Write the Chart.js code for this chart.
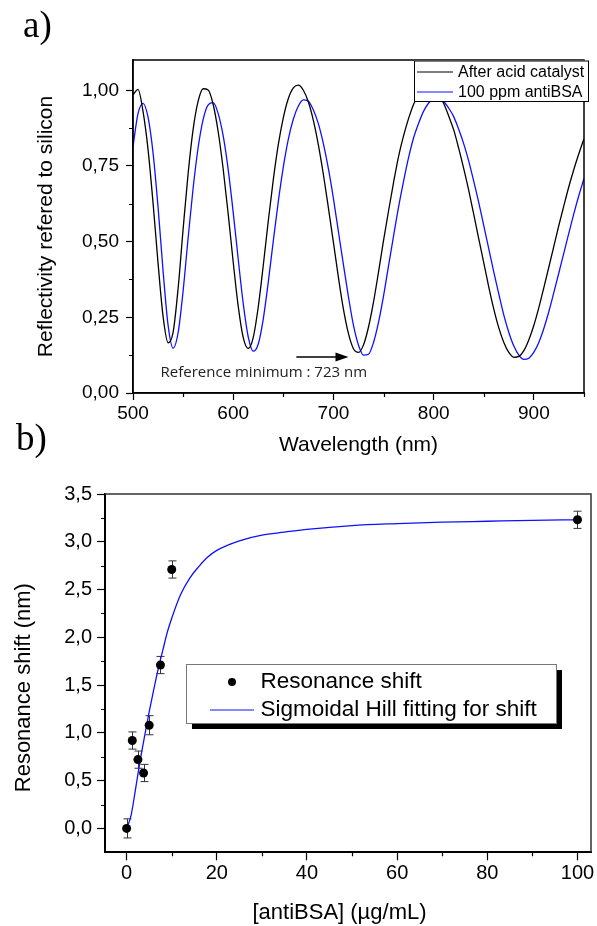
<!DOCTYPE html>
<html>
<head>
<meta charset="utf-8">
<title>Reflectivity and resonance shift</title>
<script src="https://cdn.jsdelivr.net/npm/chart.js@4.4.1/dist/chart.umd.min.js"></script>
<style>
  html, body { margin: 0; padding: 0; background: #fff; }
  #wrap { position: relative; width: 597px; height: 926px; overflow: hidden; background: #fff; }
  #c1 { position: absolute; left: 0; top: 0; }
  #c2 { position: absolute; left: 0; top: 460px; }
  .panel { position: absolute; font-family: "Liberation Serif", "Times New Roman", serif;
           font-size: 37px; line-height: 37px; color: #000; margin: 0; }
</style>
</head>
<body>
<div id="wrap">
  <canvas id="c1" width="597" height="460"></canvas>
  <canvas id="c2" width="597" height="466"></canvas>
  <div class="panel" style="left:23px; top:6px;">a)</div>
  <div class="panel" style="left:16px; top:419px;">b)</div>
</div>
<script>
// ---------- panel a): reflectivity spectra ----------
const wavelength = [
  500, 505, 510, 515, 520, 525, 530, 535, 540, 545, 550, 555, 560, 565, 570, 575, 580, 585, 590, 595,
  600, 605, 610, 615, 620, 625, 630, 635, 640, 645, 650, 655, 660, 665, 670, 675, 680, 685, 690, 695,
  700, 705, 710, 715, 720, 725, 730, 735, 740, 745, 750, 755, 760, 765, 770, 775, 780, 785, 790, 795,
  800, 805, 810, 815, 820, 825, 830, 835, 840, 845, 850, 855, 860, 865, 870, 875, 880, 885, 890, 895,
  900, 905, 910, 915, 920, 925, 930, 935, 940, 945, 950
];
const reflAfterCatalyst = [
  0.985, 1.003, 0.930, 0.805, 0.628, 0.429, 0.253, 0.166, 0.200, 0.345, 0.541, 0.725, 0.871, 0.964, 1.005, 1.001, 0.953, 0.863, 0.739, 0.591,
  0.432, 0.286, 0.183, 0.147, 0.184, 0.285, 0.422, 0.569, 0.705, 0.821, 0.910, 0.973, 1.008, 1.017, 1.000, 0.961, 0.900, 0.819, 0.721, 0.611,
  0.497, 0.381, 0.276, 0.196, 0.146, 0.134, 0.159, 0.218, 0.301, 0.400, 0.504, 0.602, 0.696, 0.782, 0.850, 0.907, 0.954, 0.984, 1.004, 1.010,
  1.003, 0.984, 0.956, 0.915, 0.869, 0.808, 0.741, 0.669, 0.590, 0.509, 0.430, 0.350, 0.277, 0.215, 0.167, 0.134, 0.118, 0.121, 0.140, 0.176,
  0.224, 0.283, 0.349, 0.417, 0.486, 0.555, 0.620, 0.683, 0.740, 0.792, 0.840
];
const reflAntiBSA = [
  0.815, 0.923, 0.957, 0.911, 0.793, 0.614, 0.404, 0.224, 0.148, 0.199, 0.337, 0.512, 0.677, 0.811, 0.904, 0.952, 0.959, 0.923, 0.849, 0.738,
  0.596, 0.442, 0.295, 0.185, 0.138, 0.162, 0.245, 0.367, 0.503, 0.633, 0.747, 0.839, 0.905, 0.948, 0.968, 0.964, 0.935, 0.889, 0.823, 0.740,
  0.642, 0.532, 0.423, 0.317, 0.223, 0.158, 0.125, 0.128, 0.167, 0.234, 0.321, 0.421, 0.519, 0.615, 0.700, 0.778, 0.843, 0.891, 0.931, 0.958,
  0.972, 0.974, 0.963, 0.941, 0.913, 0.871, 0.823, 0.766, 0.699, 0.629, 0.553, 0.476, 0.399, 0.327, 0.257, 0.200, 0.155, 0.125, 0.111, 0.115,
  0.135, 0.168, 0.214, 0.270, 0.333, 0.398, 0.464, 0.530, 0.594, 0.654, 0.709
];
const spectraNames = ['After acid catalyst', '100 ppm antiBSA'];
const refMinimumText = 'Reference minimum : 723 nm';
const wavelengthMinorTicks = [550, 650, 750, 850, 950];
const reflMinorTicks = [0.125, 0.375, 0.625, 0.875];

// ---------- panel b): resonance shift vs concentration ----------
const concentration = [0, 1.25, 2.5, 3.75, 5, 7.5, 10, 100];
const resonanceShift = [0, 0.92, 0.72, 0.58, 1.08, 1.71, 2.71, 3.23];
const shiftError = [0.10, 0.09, 0.09, 0.09, 0.10, 0.09, 0.09, 0.09];
const hillConc = [0, 1, 2, 3, 4, 5, 6, 7, 8, 9, 10, 12, 14, 16, 18, 20, 25, 30, 35, 40, 50, 60, 70, 80, 90, 100];
const hillShift = [0, 0.14, 0.42, 0.71, 0.97, 1.22, 1.45, 1.67, 1.86, 2.05, 2.20, 2.45, 2.62, 2.74, 2.84, 2.91,
                   3.01, 3.07, 3.10, 3.13, 3.17, 3.19, 3.205, 3.215, 3.225, 3.23];
const shiftNames = ['Resonance shift', 'Sigmoidal Hill fitting for shift'];
const concTitle = '[antiBSA] (\u00b5g/mL)';
const shiftTitle = 'Resonance shift (nm)';
const concMinorTicks = [10, 30, 50, 70, 90];
const shiftMinorTicks = [0.25, 0.75, 1.25, 1.75, 2.25, 2.75, 3.25];

// ---------- shared style ----------
const SANS = '"Liberation Sans", Arial, Helvetica, sans-serif';
const BLUE = '#1010ff';
Chart.defaults.font.family = SANS;
Chart.defaults.color = '#000';
const decimalComma = (v, d) => Number(v).toFixed(d).replace('.', ',');

function drawMinorTicks(ctx, area, xs, ys, xVals, yVals, len) {
  ctx.beginPath();
  xVals.forEach(v => { const p = Math.round(xs.getPixelForValue(v)) + 0.5; ctx.moveTo(p, area.bottom); ctx.lineTo(p, area.bottom + len); });
  yVals.forEach(v => { const p = Math.round(ys.getPixelForValue(v)) + 0.5; ctx.moveTo(area.left, p); ctx.lineTo(area.left - len, p); });
  ctx.stroke();
}

// frame, minor ticks, arrow note and legend of the spectra panel
const spectraDecor = {
  id: 'spectraDecor',
  afterDraw(chart) {
    const { ctx, chartArea: a, scales: { x, y } } = chart;
    ctx.save();
    ctx.strokeStyle = '#000';
    ctx.lineWidth = 1.5;
    ctx.strokeRect(a.left, a.top, a.right - a.left, a.bottom - a.top);
    ctx.lineWidth = 1.2;
    drawMinorTicks(ctx, a, x, y, wavelengthMinorTicks, reflMinorTicks, 4);

    // arrow pointing at the reference minimum
    const ax0 = x.getPixelForValue(663), ax1 = x.getPixelForValue(715), ay = y.getPixelForValue(0.119);
    ctx.lineWidth = 1.3;
    ctx.beginPath(); ctx.moveTo(ax0, ay); ctx.lineTo(ax1 - 10, ay); ctx.stroke();
    ctx.fillStyle = '#000';
    ctx.beginPath(); ctx.moveTo(ax1, ay); ctx.lineTo(ax1 - 13, ay - 4.5); ctx.lineTo(ax1 - 13, ay + 4.5); ctx.closePath(); ctx.fill();
    ctx.font = '15px "Open Sans", "DejaVu Sans", sans-serif';
    ctx.fillStyle = '#222';
    ctx.textAlign = 'left';
    ctx.textBaseline = 'middle';
    ctx.fillText(refMinimumText, x.getPixelForValue(527.5), y.getPixelForValue(0.067));

    // legend box in the upper right corner
    const bx = a.right - 170, by = a.top + 0.5, bw = 174, bh = 40.5;
    ctx.fillStyle = '#fff';
    ctx.fillRect(bx, by, bw, bh);
    ctx.strokeStyle = '#000';
    ctx.lineWidth = 1;
    ctx.strokeRect(bx + 0.5, by + 0.5, bw, bh);
    ctx.font = '16px ' + SANS;
    ctx.textBaseline = 'middle';
    chart.data.datasets.forEach((ds, i) => {
      const ry = by + 11.5 + i * 20;
      ctx.strokeStyle = ds.borderColor;
      ctx.lineWidth = 1.2;
      ctx.beginPath(); ctx.moveTo(bx + 3, ry); ctx.lineTo(bx + 39, ry); ctx.stroke();
      ctx.fillStyle = '#000';
      ctx.fillText(ds.label, bx + 44, ry + 0.5);
    });
    ctx.restore();
  }
};

// error bars, frame, minor ticks, axis titles and shadowed legend of the shift panel
const shiftDecor = {
  id: 'shiftDecor',
  beforeDatasetsDraw(chart) {
    const { ctx, scales: { x, y } } = chart;
    ctx.save();
    ctx.strokeStyle = '#333';
    ctx.lineWidth = 1;
    ctx.beginPath();
    concentration.forEach((c, i) => {
      const px = Math.round(x.getPixelForValue(c)) + 0.5;
      const yt = y.getPixelForValue(resonanceShift[i] + shiftError[i]);
      const yb = y.getPixelForValue(resonanceShift[i] - shiftError[i]);
      ctx.moveTo(px, yt); ctx.lineTo(px, yb);
      ctx.moveTo(px - 4, yt); ctx.lineTo(px + 4, yt);
      ctx.moveTo(px - 4, yb); ctx.lineTo(px + 4, yb);
    });
    ctx.stroke();
    ctx.restore();
  },
  afterDraw(chart) {
    const { ctx, chartArea: a, scales: { x, y } } = chart;
    ctx.save();
    ctx.strokeStyle = '#333';
    ctx.lineWidth = 1.5;
    ctx.beginPath();
    ctx.moveTo(a.left, a.top); ctx.lineTo(a.right, a.top); ctx.lineTo(a.right, a.bottom);
    ctx.stroke();
    ctx.strokeStyle = '#000';
    ctx.lineWidth = 1.2;
    drawMinorTicks(ctx, a, x, y, concMinorTicks, shiftMinorTicks, 4);

    // axis titles
    ctx.fillStyle = '#000';
    ctx.font = '22px ' + SANS;
    ctx.textAlign = 'center';
    ctx.textBaseline = 'middle';
    ctx.fillText(concTitle, a.left + 234.5, a.bottom + 60.7);
    ctx.save();
    ctx.translate(24, a.top + 193.7);
    ctx.rotate(-Math.PI / 2);
    ctx.fillText(shiftTitle, 0, 0);
    ctx.restore();

    // legend with drop shadow
    const bx = a.left + 81, by = a.top + 170, bw = 370, bh = 59;
    ctx.fillStyle = '#000';
    ctx.fillRect(bx + 6, by + 6, bw, bh);
    ctx.fillStyle = '#fff';
    ctx.fillRect(bx, by, bw, bh);
    ctx.strokeStyle = '#777';
    ctx.lineWidth = 1;
    ctx.strokeRect(bx + 0.5, by + 0.5, bw, bh);
    ctx.font = '22.5px ' + SANS;
    ctx.textBaseline = 'middle';
    ctx.textAlign = 'left';
    const pts = chart.data.datasets[0], fit = chart.data.datasets[1];
    ctx.fillStyle = '#000';
    ctx.beginPath(); ctx.arc(bx + 46, by + 18, 4, 0, Math.PI * 2); ctx.fill();
    ctx.fillText(pts.label, bx + 74.5, by + 18);
    ctx.strokeStyle = fit.borderColor;
    ctx.lineWidth = 1.2;
    ctx.beginPath(); ctx.moveTo(bx + 24, by + 46); ctx.lineTo(bx + 68, by + 46); ctx.stroke();
    ctx.fillStyle = '#000';
    ctx.fillText(fit.label, bx + 74.5, by + 46);
    ctx.restore();
  }
};

function axisStyle(extra) {
  return Object.assign({
    type: 'linear',
    border: { display: true, color: '#000', width: 1.5 },
    grid: { drawOnChartArea: false, drawTicks: true, tickLength: 7, color: '#000', tickWidth: 1.2 }
  }, extra);
}

new Chart(document.getElementById('c1'), {
  type: 'line',
  data: {
    datasets: [
      { label: spectraNames[0], data: wavelength.map((w, i) => ({ x: w, y: reflAfterCatalyst[i] })),
        borderColor: '#000', borderWidth: 1.3, pointRadius: 0, fill: false, cubicInterpolationMode: 'monotone' },
      { label: spectraNames[1], data: wavelength.map((w, i) => ({ x: w, y: reflAntiBSA[i] })),
        borderColor: BLUE, borderWidth: 1.3, pointRadius: 0, fill: false, cubicInterpolationMode: 'monotone' }
    ]
  },
  options: {
    responsive: false, animation: false, devicePixelRatio: 1,
    layout: { padding: { top: 60, right: 13, left: 0, bottom: 0 } },
    plugins: { legend: { display: false }, tooltip: { enabled: false } },
    scales: {
      x: axisStyle({
        min: 500, max: 950,
        afterFit: s => { s.height = 67; },
        ticks: { stepSize: 100, includeBounds: false, autoSkip: false, maxRotation: 0, padding: 2,
                 font: { size: 19 }, color: '#000', callback: v => String(v) },
        title: { display: true, text: 'Wavelength (nm)', font: { size: 21 }, color: '#000', padding: { top: 0, bottom: 2 } }
      }),
      y: axisStyle({
        min: 0, max: 1.1,
        afterFit: s => { s.width = 133; },
        ticks: { stepSize: 0.25, includeBounds: false, autoSkip: false, padding: 7,
                 font: { size: 19 }, color: '#000', callback: v => decimalComma(v, 2) },
        title: { display: true, text: 'Reflectivity refered to silicon', font: { size: 21 }, color: '#000', padding: { top: 34, bottom: 0 } }
      })
    }
  },
  plugins: [spectraDecor]
});

new Chart(document.getElementById('c2'), {
  type: 'scatter',
  data: {
    datasets: [
      { label: shiftNames[0], data: concentration.map((c, i) => ({ x: c, y: resonanceShift[i] })),
        backgroundColor: '#000', borderColor: '#000', borderWidth: 0, pointRadius: 4.5, showLine: false },
      { label: shiftNames[1], data: hillConc.map((c, i) => ({ x: c, y: hillShift[i] })),
        borderColor: BLUE, borderWidth: 1.3, pointRadius: 0, showLine: true, fill: false, cubicInterpolationMode: 'monotone' }
    ]
  },
  options: {
    responsive: false, animation: false, devicePixelRatio: 1,
    layout: { padding: { top: 34, right: 6, left: 0, bottom: 0 } },
    plugins: { legend: { display: false }, tooltip: { enabled: false } },
    scales: {
      x: axisStyle({
        min: -4.8, max: 103,
        border: { display: true, color: '#000', width: 2 },
        grid: { drawOnChartArea: false, drawTicks: true, tickLength: 8, color: '#000', tickWidth: 1.2 },
        afterFit: s => { s.height = 73.7; },
        ticks: { stepSize: 20, includeBounds: false, autoSkip: false, maxRotation: 0, padding: 1,
                 font: { size: 20 }, color: '#000', callback: v => String(v) }
      }),
      y: axisStyle({
        min: -0.25, max: 3.5,
        border: { display: true, color: '#000', width: 2 },
        grid: { drawOnChartArea: false, drawTicks: true, tickLength: 8, color: '#000', tickWidth: 1.2 },
        afterFit: s => { s.width = 105; },
        ticks: { stepSize: 0.5, includeBounds: false, autoSkip: false, padding: 5,
                 font: { size: 20 }, color: '#000', callback: v => decimalComma(v, 1) }
      })
    }
  },
  plugins: [shiftDecor]
});
</script>
</body>
</html>
